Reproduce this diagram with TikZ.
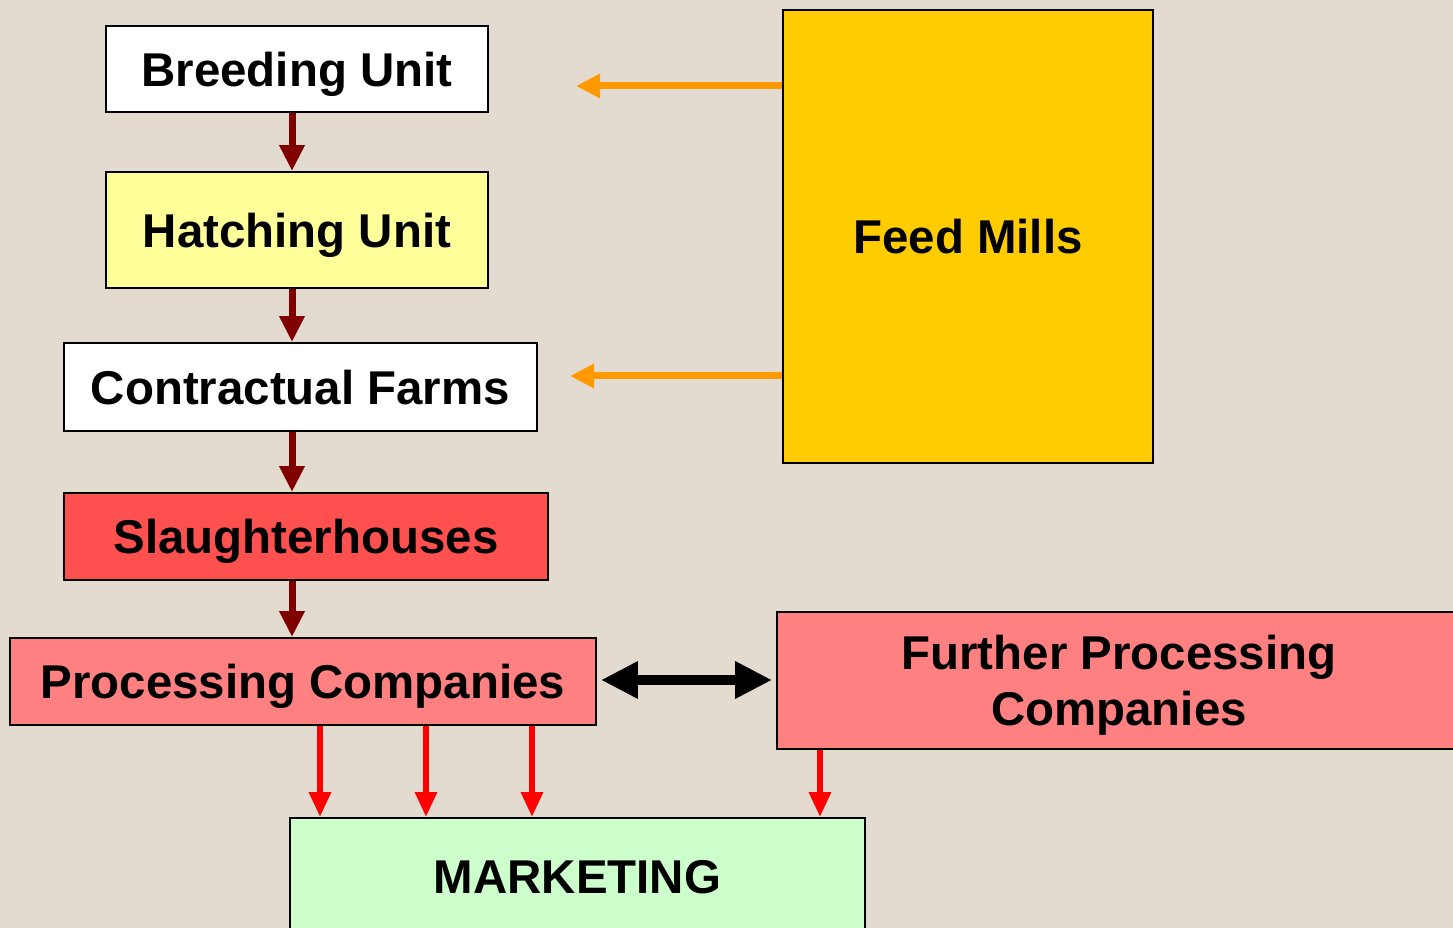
\documentclass[tikz,border=0pt]{standalone}
\usepackage{fontspec}
\setmainfont{Liberation Sans}
\usetikzlibrary{arrows.meta, positioning}

\definecolor{paper}{HTML}{E3DBCF}
\definecolor{hatchyellow}{HTML}{FFFF99}
\definecolor{slaughterred}{HTML}{FF5050}
\definecolor{procpink}{HTML}{FF8080}
\definecolor{marketgreen}{HTML}{CCFFCC}
\definecolor{feedgold}{HTML}{FFCC00}
\definecolor{chainred}{HTML}{800000}
\definecolor{feedorange}{HTML}{FF9900}

\tikzset{
  unit/.style={draw=black, line width=1.1pt, inner sep=0pt, align=center, text depth=0pt,
               font=\fontsize{27}{32}\selectfont\bfseries},
  chain/.style={draw=chainred, line width=0.14cm,
                -{Triangle[length=0.52cm, width=0.48cm]}},
  feed/.style={draw=feedorange, line width=0.14cm,
               -{Triangle[length=0.48cm, width=0.46cm]}},
  market/.style={draw=red, line width=0.12cm,
                 -{Triangle[length=0.5cm, width=0.42cm]}},
  both/.style={draw=black, line width=0.2cm,
               {Triangle[length=0.74cm, width=0.7cm]}-{Triangle[length=0.74cm, width=0.7cm]}}
}

\begin{document}
\begin{tikzpicture}[x=0.02cm, y=-0.02cm]
  \fill[paper] (0,0) rectangle (1453,928);
  \useasboundingbox (0,0) rectangle (1453,928);

  % supply chain boxes
  \node[unit, fill=white, minimum width=7.64cm, minimum height=1.72cm] (breeding) at (297,69) {Breeding Unit};
  \node[unit, fill=hatchyellow, minimum width=7.64cm, minimum height=2.32cm] (hatching) at (297,230) {Hatching Unit};
  \node[unit, fill=white, minimum width=9.46cm, minimum height=1.76cm] (farms) at (300.5,387) {Contractual Farms};
  \node[unit, fill=slaughterred, minimum width=9.68cm, minimum height=1.74cm] (slaughter) at (306,536.5) {Slaughterhouses};
  \node[unit, fill=procpink, minimum width=11.72cm, minimum height=1.74cm] (processing) at (303,681.5) {Processing Companies};
  \node[unit, fill=procpink, minimum width=13.68cm, minimum height=2.74cm] (further) at (1119,680.5) {Further Processing\\Companies};
  \node[unit, fill=marketgreen, minimum width=11.5cm, minimum height=2.36cm] (marketing) at (577.5,877) {MARKETING};
  \node[unit, fill=feedgold, minimum width=7.4cm, minimum height=9.06cm] (feedmills) at (968,236.5) {Feed Mills};

  % helper coordinates
  \coordinate (spine) at (292,0);
  \coordinate (toBreeding) at (576,86);
  \coordinate (toFarms) at (570,376);

  % main chain
  \draw[chain] (breeding.south -| spine) -- (hatching.north -| spine);
  \draw[chain] (hatching.south -| spine) -- (farms.north -| spine);
  \draw[chain] (farms.south -| spine) -- (slaughter.north -| spine);
  \draw[chain] (slaughter.south -| spine) -- (processing.north -| spine);

  % feed supply
  \draw[feed] (feedmills.west |- toBreeding) -- (toBreeding);
  \draw[feed] (feedmills.west |- toFarms) -- (toFarms);

  % processing link
  \draw[both, shorten <=4*0.02cm, shorten >=4*0.02cm] (processing.east |- 0,680) -- (further.west |- 0,680);

  % to marketing
  \foreach \x in {320,426,532}
    \draw[market] (processing.south -| \x,0) -- (marketing.north -| \x,0);
  \draw[market] (further.south -| 820,0) -- (marketing.north -| 820,0);
\end{tikzpicture}
\end{document}
